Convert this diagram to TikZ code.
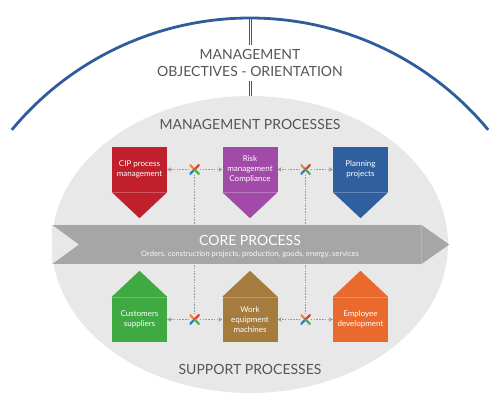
\documentclass[tikz,border=0pt]{standalone}
\usepackage{fontspec}
\setmainfont{Lato}
\usetikzlibrary{arrows.meta}

\definecolor{arcblue}{HTML}{2E5C9C}
\definecolor{txtgray}{HTML}{555555}
\definecolor{procgray}{HTML}{E8E8E8}
\definecolor{coregray}{HTML}{A6A6A6}
\definecolor{linkgray}{HTML}{9A9A9A}
\definecolor{cipred}{HTML}{C0202B}
\definecolor{riskviolet}{HTML}{A24AA8}
\definecolor{planblue}{HTML}{2F5F9F}
\definecolor{custgreen}{HTML}{3FAA41}
\definecolor{workbrown}{HTML}{A57B3E}
\definecolor{emplorange}{HTML}{E96A2C}
\definecolor{xorange}{HTML}{F08A30}
\definecolor{xred}{HTML}{E0403A}
\definecolor{xblue}{HTML}{3A7CC8}
\definecolor{xgreen}{HTML}{4CAF50}

\begin{document}
\begin{tikzpicture}[x=1pt, y=-1pt,
  title/.style={text=txtgray, font=\fontsize{14}{17}\selectfont, align=center, inner sep=4pt},
  box/.style={rectangle, minimum width=55pt, minimum height=45pt, inner sep=0pt,
    text=white, align=center, font=\fontsize{8}{10}\selectfont},
  link/.style={draw=linkgray, line width=0.9pt, dash pattern=on 1.6pt off 1.2pt,
    -{Stealth[length=4pt, width=4.5pt]}},
  vlink/.style={draw=linkgray, line width=0.9pt, dash pattern=on 1.6pt off 1.2pt},
  bar/.style={draw=txtgray, line width=0.8pt},
  xmark/.style={minimum size=10pt, inner sep=0pt, path picture={
    \draw[xorange, line width=2.2pt] (path picture bounding box.center) -- (path picture bounding box.north west);
    \draw[xred, line width=2.2pt] (path picture bounding box.center) -- (path picture bounding box.north east);
    \draw[xblue, line width=2.2pt] (path picture bounding box.center) -- (path picture bounding box.south west);
    \draw[xgreen, line width=2.2pt] (path picture bounding box.center) -- (path picture bounding box.south east);}}
]
\useasboundingbox (0,0) rectangle (500,411);

% frame: arc and process area
\draw[arcblue, line width=2.8pt] (250,327.6) ++(-140.3:309.6) arc[start angle=-140.3, end angle=-39.7, radius=309.6];
\fill[procgray] (250,244.5) ellipse [x radius=198, y radius=148.5];

\coordinate (top) at (250,19);
\coordinate (ell) at (250,96);
\node[title] (obj) at (250,63) {MANAGEMENT\\OBJECTIVES - ORIENTATION};
\node[title] (mgmt) at (250,124) {MANAGEMENT PROCESSES};
\node[title] (supp) at (250,369) {SUPPORT PROCESSES};
\foreach \s in {-1.1pt, 1.1pt} {
  \draw[bar] ([xshift=\s]top) -- ([xshift=\s]top |- obj.north);
  \draw[bar] ([xshift=\s]ell |- obj.south) -- ([xshift=\s]ell);
}

% core process
\node[rectangle, fill=coregray, minimum width=369pt, minimum height=39pt, inner sep=0pt] (core) at (236.5,244.5) {};
\fill[coregray] (core.north east) -- ([xshift=28pt]core.east) -- (core.south east) -- cycle;
\fill[procgray] (core.north west) -- ([xshift=27pt]core.west) -- (core.south west) -- cycle;
\draw[white, opacity=0.2, line width=0.5pt] (core.north east) -- (core.south east);
\node[text=white, font=\fontsize{14}{16}\selectfont, inner sep=0pt] (coret) at (250,240.5) {CORE PROCESS};
\node[text=white!92!coregray, font=\fontsize{7.6}{9}\selectfont, inner sep=0pt] (cores) at (250,254.5) {Orders, construction projects, production, goods, energy, services};

% management processes
\node[box, fill=cipred] (m1) at (139.5,169.5) {CIP process\\management};
\node[box, fill=riskviolet] (m2) at (250,169.5) {Risk\\management\\Compliance};
\node[box, fill=planblue] (m3) at (360.5,169.5) {Planning\\projects};
\foreach \n/\c in {m1/cipred, m2/riskviolet, m3/planblue} {
  \fill[\c] (\n.south west) -- (\n.south east) -- ([yshift=-26pt]\n.south) -- cycle;
  \draw[white, opacity=0.25, line width=0.4pt] (\n.south west) -- (\n.south east);
}

% support processes
\node[box, fill=custgreen] (s1) at (139.5,319.5) {Customers\\suppliers};
\node[box, fill=workbrown] (s2) at (250,319.5) {Work\\equipment\\machines};
\node[box, fill=emplorange] (s3) at (360.5,319.5) {Employee\\development};
\foreach \n/\c in {s1/custgreen, s2/workbrown, s3/emplorange} {
  \fill[\c] (\n.north west) -- (\n.north east) -- ([yshift=26pt]\n.north) -- cycle;
  \draw[white, opacity=0.25, line width=0.4pt] (\n.north west) -- (\n.north east);
}

% interfaces
\node[xmark] (x1) at (194.5,169.5) {};
\node[xmark] (x2) at (305.5,169.5) {};
\node[xmark] (x3) at (194.5,319.5) {};
\node[xmark] (x4) at (305.5,319.5) {};

\draw[link] (x1) -- (m1);
\draw[link] (x1) -- (m2);
\draw[link] (x2) -- (m2);
\draw[link] (x2) -- (m3);
\draw[link] (x3) -- (s1);
\draw[link] (x3) -- (s2);
\draw[link] (x4) -- (s2);
\draw[link] (x4) -- (s3);

\draw[vlink] (x1) -- (x1 |- core.north);
\draw[vlink] (x2) -- (x2 |- core.north);
\draw[vlink] (x3) -- (x3 |- core.south);
\draw[vlink] (x4) -- (x4 |- core.south);

\end{tikzpicture}
\end{document}
